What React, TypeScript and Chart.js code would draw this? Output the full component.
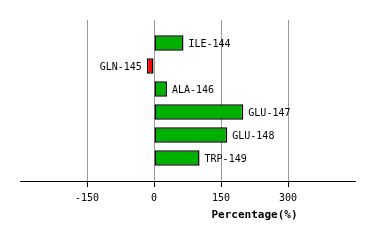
import React, { useEffect, useRef } from "react";
import { Chart, registerables } from "chart.js";

Chart.register(...registerables);

const residues = ["ILE-144", "GLN-145", "ALA-146", "GLU-147", "GLU-148", "TRP-149"];
const percentages = [66, -16, 29, 200, 164, 102];
const xTicks = [-150, 0, 150, 300];
const xMin = -300;
const xMax = 450;
const axisTitle = "Percentage(%)";

const GREEN = "#00b000";
const RED = "#ff0000";
const FONT = "'DejaVu Sans Mono', 'Liberation Mono', monospace";

export default function App() {
  const ref = useRef<HTMLCanvasElement | null>(null);

  useEffect(() => {
    if (!ref.current) return;
    const labels = ["", ...residues, ""];
    const values = [null, ...percentages, null];
    const colors = labels.map((_, i) => {
      const v = values[i];
      return v !== null && v < 0 ? RED : GREEN;
    });

    const labelPlugin = {
      id: "barLabels",
      afterDatasetsDraw(chart: any) {
        const ctx = chart.ctx;
        const meta = chart.getDatasetMeta(0);
        ctx.save();
        ctx.font = `10px ${FONT}`;
        ctx.fillStyle = "#000";
        ctx.textBaseline = "middle";
        meta.data.forEach((bar: any, i: number) => {
          const v = values[i];
          if (v === null || v === undefined) return;
          const text = labels[i];
          if (v >= 0) {
            ctx.textAlign = "left";
            ctx.fillText(text, bar.x + 5, bar.y + 1);
          } else {
            ctx.textAlign = "right";
            ctx.fillText(text, bar.x - 5, bar.y + 1);
          }
        });
        const xs = chart.scales.x;
        ctx.font = `bold 11px ${FONT}`;
        ctx.textAlign = "center";
        ctx.fillText(axisTitle, xs.getPixelForValue((0 + xMax) / 2), 215);
        ctx.restore();
      },
    };

    const chart = new Chart(ref.current, {
      type: "bar",
      data: {
        labels,
        datasets: [
          {
            data: values as any,
            backgroundColor: colors,
            borderColor: "#000",
            borderWidth: 1.5,
            borderSkipped: false,
            categoryPercentage: 1,
            barPercentage: 0.68,
          },
        ],
      },
      options: {
        indexAxis: "y",
        animation: false,
        responsive: false,
        events: [],
        layout: { padding: { top: 20, right: 19, left: 0, bottom: 0 } },
        plugins: { legend: { display: false }, tooltip: { enabled: false } },
        scales: {
          x: {
            type: "linear",
            min: xMin,
            max: xMax,
            afterBuildTicks(scale: any) {
              scale.ticks = xTicks.map((v) => ({ value: v }));
            },
            afterFit(scale: any) {
              scale.height = 59;
            },
            grid: {
              color: "#999999",
              tickColor: "#000",
              tickLength: 6,
              lineWidth: 1,
            },
            border: { display: true, color: "#000", width: 1 },
            ticks: {
              color: "#000",
              font: { family: FONT, size: 10 },
              padding: 5,
              maxRotation: 0,
            },
          },
          y: {
            type: "category",
            offset: false,
            afterFit(scale: any) {
              scale.width = 20;
            },
            grid: { display: false },
            border: { display: false },
            ticks: { display: false },
          },
        },
      },
      plugins: [labelPlugin],
    });
    return () => chart.destroy();
  }, []);

  return (
    <div style={{ position: "absolute", left: 0, top: 0, width: 374, height: 240, background: "#fff" }}>
      <canvas ref={ref} width={374} height={240} />
    </div>
  );
}
